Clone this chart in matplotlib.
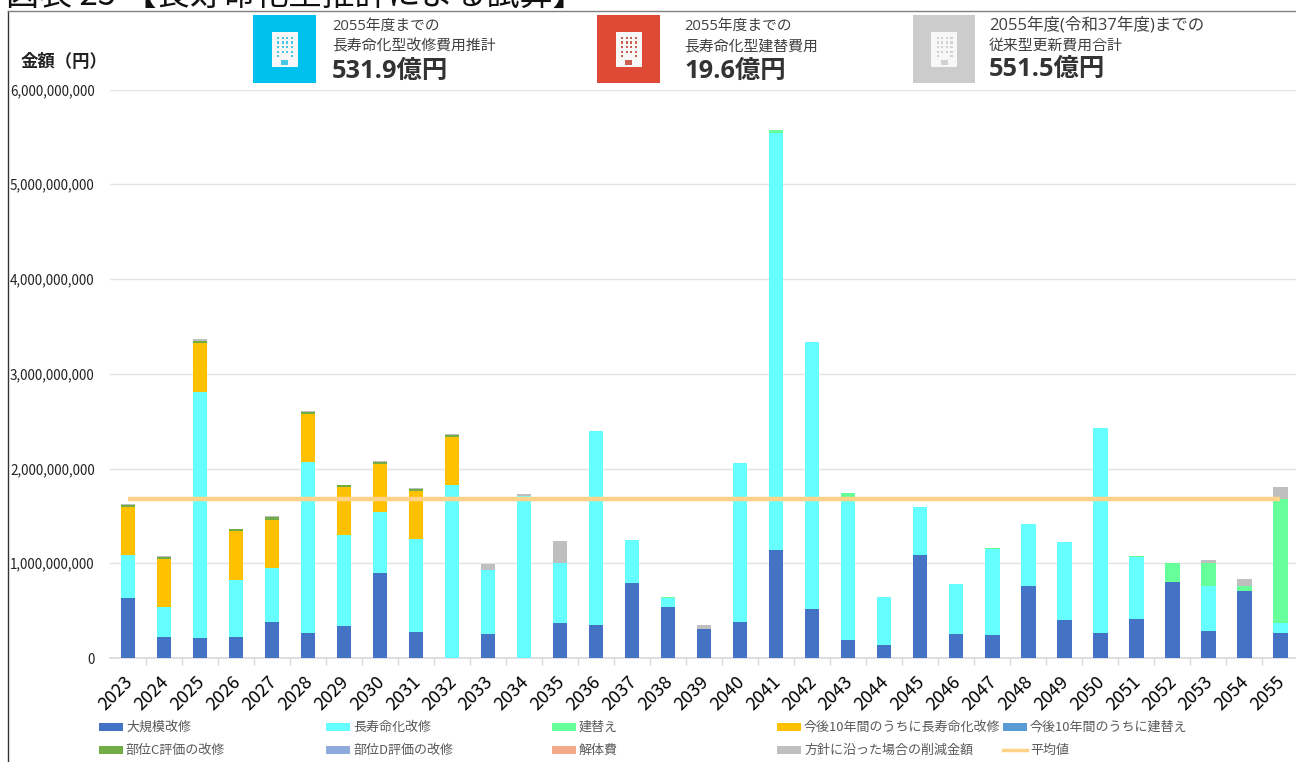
import matplotlib
matplotlib.use('Agg')
import matplotlib.pyplot as plt
import matplotlib.transforms as mtrans
import numpy as np
from matplotlib.patches import Rectangle

plt.rcParams['font.family'] = ['Noto Sans CJK JP', 'DejaVu Sans']
card_font = ['Open Sans', 'Noto Sans CJK JP']

W, H = 1296, 762

years = list(range(2023, 2056))

# all values in millions of yen
large_repair = [635, 220, 210, 220, 380, 265, 340, 900, 270, 0, 255, 0, 365, 345, 795, 540, 305,
                380, 1140, 515, 185, 135, 1085, 255, 240, 760, 400, 265, 415, 805, 280, 710, 260]
life_ext = [450, 315, 2600, 605, 575, 1805, 960, 640, 990, 1825, 675, 1710, 635, 2055, 450, 90, 0,
            1675, 4400, 2820, 1495, 505, 505, 530, 915, 650, 825, 2165, 655, 0, 485, 0, 105]
rebuild = [0, 0, 0, 0, 0, 0, 0, 0, 0, 0, 0, 0, 0, 0, 0, 15, 0,
           0, 30, 0, 65, 0, 0, 0, 10, 0, 0, 0, 5, 195, 235, 45, 1315]
next10_life = [505, 515, 510, 515, 505, 505, 505, 510, 505, 510, 0, 0, 0, 0, 0, 0, 0,
               0, 0, 0, 0, 0, 0, 0, 0, 0, 0, 0, 0, 0, 0, 0, 0]
next10_rebuild = [0] * 33
grade_c = [20, 20, 25, 20, 25, 25, 20, 15, 20, 20, 0, 0, 0, 0, 0, 0, 0,
           0, 0, 0, 0, 0, 0, 0, 0, 0, 0, 0, 0, 0, 0, 0, 0]
grade_d = [0] * 33
demolition = [0, 0, 0, 0, 0, 0, 0, 0, 0, 0, 0, 0, 0, 0, 0, 0, 0,
              0, 0, 0, 0, 0, 0, 0, 0, 0, 0, 0, 0, 0, 5, 0, 0]
reduction = [15, 5, 20, 5, 10, 5, 5, 10, 10, 10, 60, 25, 230, 0, 0, 0, 45,
             0, 0, 0, 0, 0, 0, 0, 0, 0, 0, 0, 0, 5, 25, 80, 125]
average = [1675] * 33

series = [
    ('大規模改修', large_repair, '#4472c4'),
    ('長寿命化改修', life_ext, '#66ffff'),
    ('建替え', rebuild, '#66ff99'),
    ('今後10年間のうちに長寿命化改修', next10_life, '#ffc000'),
    ('今後10年間のうちに建替え', next10_rebuild, '#5b9bd5'),
    ('部位C評価の改修', grade_c, '#70ad47'),
    ('部位D評価の改修', grade_d, '#8faadc'),
    ('解体費', demolition, '#f4a98a'),
    ('方針に沿った場合の削減金額', reduction, '#bfbfbf'),
]

fig = plt.figure(figsize=(W / 100, H / 100), dpi=100)
ax = fig.add_axes([110 / W, 1 - 658 / H, (W - 110) / W, 568.5 / H])

x = np.arange(len(years))
bottom = np.zeros(len(years))
for name, vals, col in series:
    v = np.array(vals) * 1e6
    ax.bar(x, v, 0.41, bottom=bottom, color=col, linewidth=0, zorder=3)
    bottom += v
ax.plot(x, np.array(average) * 1e6, color='#ffd28a', lw=3.2, zorder=4, solid_capstyle='butt')

ax.set_xlim(-0.5, 32.44)
ax.set_ylim(0, 6e9)
ax.set_yticks(np.arange(0, 7) * 1e9)
ax.set_yticklabels(['0'] + [f'{i},000,000,000' for i in range(1, 7)], fontsize=9.7, color='#222222')
ax.set_xticks(x)
ax.set_xticklabels(years, rotation=45, ha='right', rotation_mode='anchor', fontsize=13, color='black')
ax.tick_params(axis='y', length=0, pad=11)
ax.tick_params(axis='x', length=0, pad=10)
shift = mtrans.ScaledTranslation(-4 / 100, -1 / 100, fig.dpi_scale_trans)
for lab in ax.get_xticklabels():
    lab.set_transform(lab.get_transform() + shift)
# category boundary ticks
ax.set_xticks(x[:-1] + 0.5, minor=True)
ax.tick_params(axis='x', which='minor', length=5, color='#d9d9d9', width=1)
ax.grid(axis='y', color='#e2e2e2', lw=1, zorder=0)
for s in ['top', 'right', 'left']:
    ax.spines[s].set_visible(False)
ax.spines['bottom'].set_color('#d9d9d9')
ax.spines['bottom'].set_linewidth(1.2)


def px(xp, yp):
    return xp / W, 1 - yp / H


# chart frame, only top and left edges are in view
fig.add_artist(plt.Line2D([8 / W, 8 / W], [0, 1 - 11 / H], color='#333333', lw=1))
fig.add_artist(plt.Line2D([8 / W, 1], [1 - 11 / H, 1 - 11 / H], color='#808080', lw=1))

# title, cut by the top of the image
fig.text(*px(6, 5), '図表 25 【長寿命化型推計による試算】', fontsize=23.8, color='#111111', va='baseline', ha='left')
fig.text(*px(21, 67), '金額（円）', fontsize=12.5, fontweight='bold', color='#222222', va='baseline')


def building(x0, y0, w, h, bg, dot):
    fig.add_artist(Rectangle(px(x0, y0 + h), w / W, h / H, transform=fig.transFigure, color=bg, lw=0))
    bw, bh = 26, 35
    bx = x0 + (w - bw) / 2
    by = y0 + (h - bh) / 2
    fig.add_artist(Rectangle(px(bx, by + bh), bw / W, bh / H, transform=fig.transFigure, color='#f7f7f7', lw=0))
    for r in range(5):
        for c in range(4):
            # the last row only has its outer windows
            if r == 4 and c in (1, 2):
                continue
            fig.add_artist(Rectangle(px(bx + 5.5 + c * 4.6, by + 7.5 + r * 4.6), 2.2 / W, 2.2 / H,
                                     transform=fig.transFigure, color=dot, lw=0))
    fig.add_artist(Rectangle(px(bx + 9.5, by + 33), 7 / W, 5 / H, transform=fig.transFigure, color=dot, lw=0))


building(253, 15, 63, 68, '#00c0ee', '#45c7e8')
building(597, 15, 63, 68, '#de4a36', '#c9604f')
building(913, 15, 62, 68, '#cccccc', '#d2d2d2')

cards = [
    (332, 31, 50, 78, 10.6, '2055年度までの', '長寿命化型改修費用推計', '531.9億円'),
    (684, 31, 50, 78, 10.6, '2055年度までの', '長寿命化型建替費用', '19.6億円'),
    (989, 29, 50, 76, 11.9, '2055年度(令和37年度)までの', '従来型更新費用合計', '551.5億円'),
]
for xp, y1, y2, y3, fs1, l1, l2, big in cards:
    fig.text(*px(xp, y1), l1, fontsize=fs1, color='#404040', va='baseline', family=card_font)
    fig.text(*px(xp, y2), l2, fontsize=10.7, color='#404040', va='baseline', family=card_font)
    fig.text(*px(xp, y3), big, fontsize=18.3, fontweight='bold', color='#333333', va='baseline', family=card_font)

# legend laid out by hand like the excel one
legend_pos = [(99, 727), (326, 727), (552, 727), (777, 727), (1003, 727),
              (99, 750), (326, 750), (552, 750), (777, 750)]
for (name, vals, col), (lx, ly) in zip(series, legend_pos):
    fig.add_artist(Rectangle(px(lx, ly + 4), 24 / W, 8 / H, transform=fig.transFigure, color=col, lw=0))
    fig.text(*px(lx + 27, ly + 4), name, fontsize=9.4, color='#595959', va='baseline')
fig.add_artist(plt.Line2D([1003 / W, 1027 / W], [1 - 750 / H] * 2, color='#ffd28a', lw=2.5))
fig.text(*px(1030, 754), '平均値', fontsize=9.4, color='#595959', va='baseline')

fig.savefig('out.png', dpi=100)
